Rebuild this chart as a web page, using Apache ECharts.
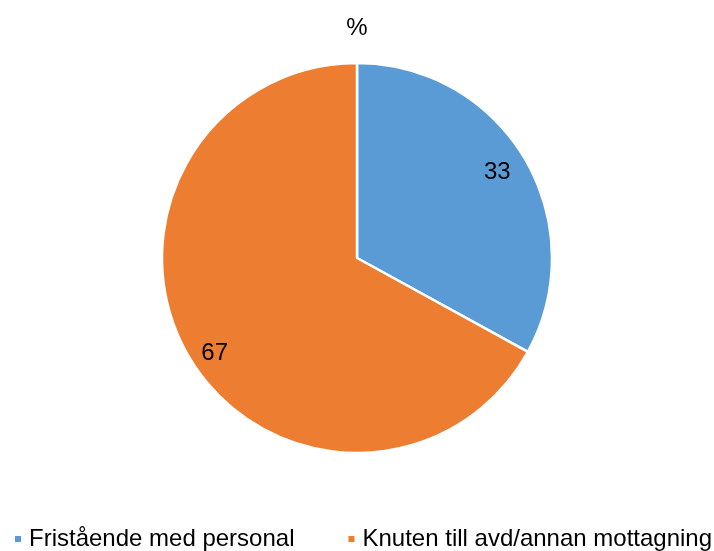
<!DOCTYPE html>
<html><head><meta charset="utf-8">
<script src="https://cdn.jsdelivr.net/npm/echarts@6/dist/echarts.min.js"></script>
<style>html,body{margin:0;padding:0;background:#fff}#c{width:714px;height:551px}</style>
</head><body><div id="c"></div>
<script>
const categories = ["Fristående med personal", "Knuten till avd/annan mottagning"];
const values = [33, 67];
const colors = ["#5B9BD5", "#ED7D31"];
const titleText = "%";

const chart = echarts.init(document.getElementById('c'), null, {renderer: 'canvas'});
const FONT = '"Liberation Sans", Arial, sans-serif';
const data = categories.map((n, i) => ({name: n, value: values[i], itemStyle: {color: colors[i]}}));
const labelNudge = [[-6, 1], [4, 9]];
chart.setOption({
  animation: false,
  title: {text: titleText, left: 'center', top: 16, padding: 0, textStyle: {fontFamily: FONT, fontSize: 24, fontWeight: 'normal', color: '#000', lineHeight: 24}},
  legend: {
    top: 527, left: 13, right: 0, padding: 0, itemWidth: 8, itemHeight: 8, itemGap: 52, icon: 'rect',
    textStyle: {fontFamily: FONT, fontSize: 24, color: '#000', lineHeight: 24, padding: [0, 0, 0, 2]},
    data: categories
  },
  series: [{
    type: 'pie', center: [357, 258], radius: [0, 195], startAngle: 90, clockwise: true,
    label: {show: false}, labelLine: {show: false},
    itemStyle: {borderColor: '#fff', borderWidth: 2.5},
    emphasis: {disabled: true},
    data: data
  }, {
    type: 'pie', center: [357, 258], radius: [144, 190], startAngle: 90, clockwise: true,
    silent: true, legendHoverLink: false,
    itemStyle: {color: 'rgba(0,0,0,0)', borderWidth: 0},
    label: {show: true, position: 'inside', formatter: '{c}', fontFamily: FONT, fontSize: 24, color: '#000'},
    labelLine: {show: false},
    labelLayout: function (p) { const n = labelNudge[p.dataIndex] || [0, 0]; return {dx: n[0], dy: n[1]}; },
    emphasis: {disabled: true},
    data: categories.map((n, i) => ({name: n, value: values[i], itemStyle: {color: 'rgba(0,0,0,0)'}}))
  }]
});
</script></body></html>
